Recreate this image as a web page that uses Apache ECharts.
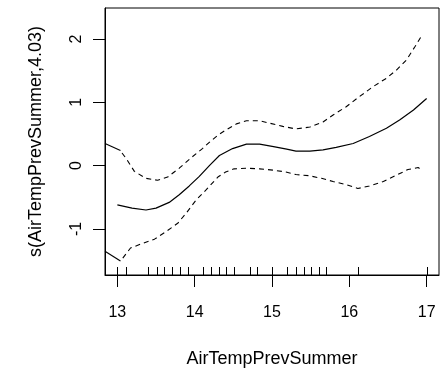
<!DOCTYPE html>
<html>
<head>
<meta charset="utf-8">
<script src="https://cdn.jsdelivr.net/npm/echarts@6/dist/echarts.min.js"></script>
<style>
html,body{margin:0;padding:0;background:#fff;}
#chart{width:444px;height:370px;}
</style>
</head>
<body>
<div id="chart"></div>
<script>
// Axis tick labels
var xTicks = [13, 14, 15, 16, 17];
var yTicks = [-1, 0, 1, 2];

// Smooth fit (solid)
var fitX = [13.0, 13.19, 13.37, 13.50, 13.67, 13.80, 13.93, 14.06, 14.19, 14.32, 14.49, 14.67, 14.84, 15.02, 15.19, 15.31, 15.49, 15.66, 15.83, 16.05, 16.26, 16.48, 16.65, 16.83, 17.0];
var fitY = [-0.62, -0.67, -0.70, -0.67, -0.58, -0.46, -0.32, -0.17, 0.00, 0.16, 0.27, 0.34, 0.34, 0.30, 0.26, 0.23, 0.23, 0.25, 0.29, 0.35, 0.46, 0.59, 0.72, 0.88, 1.06];

// Upper band (dashed)
var upperX = [13.06, 13.11, 13.22, 13.37, 13.52, 13.65, 13.80, 13.95, 14.10, 14.20, 14.30, 14.40, 14.54, 14.67, 14.84, 14.97, 15.14, 15.31, 15.49, 15.66, 15.79, 15.96, 16.13, 16.31, 16.48, 16.61, 16.74, 16.85, 16.94];
var upperY = [0.20, 0.12, -0.09, -0.20, -0.23, -0.18, -0.04, 0.12, 0.27, 0.38, 0.48, 0.56, 0.66, 0.71, 0.71, 0.67, 0.62, 0.58, 0.61, 0.69, 0.80, 0.93, 1.09, 1.25, 1.38, 1.51, 1.67, 1.88, 2.06];

// Lower band (dashed)
var lowerX = [13.07, 13.17, 13.32, 13.48, 13.63, 13.78, 13.89, 14.02, 14.15, 14.30, 14.40, 14.51, 14.67, 14.84, 15.01, 15.18, 15.31, 15.49, 15.64, 15.79, 15.96, 16.11, 16.26, 16.44, 16.61, 16.76, 16.89, 16.94];
var lowerY = [-1.46, -1.30, -1.23, -1.16, -1.04, -0.91, -0.75, -0.54, -0.38, -0.18, -0.10, -0.05, -0.04, -0.05, -0.07, -0.10, -0.14, -0.16, -0.20, -0.25, -0.30, -0.36, -0.32, -0.25, -0.15, -0.06, -0.03, -0.07];

// Band pieces entering from the left edge (drawn solid in the source)
var upperEdgeX = [12.84, 13.04];
var upperEdgeY = [0.35, 0.24];
var lowerEdgeX = [12.84, 13.04];
var lowerEdgeY = [-1.35, -1.505];

// Rug (observed x values)
var rugX = [13.0, 13.11, 13.40, 13.51, 13.60, 13.71, 13.81, 13.91, 14.11, 14.21, 14.31, 14.41, 14.51, 14.71, 14.80, 15.0, 15.20, 15.31, 15.41, 15.51, 15.61, 15.70, 16.11, 17.0];

var X_MIN = 12.84, X_MAX = 17.16, Y_MIN = -1.726, Y_MAX = 2.489;

function zip(a, b) { return a.map(function (v, i) { return [v, b[i]]; }); }

var chart = echarts.init(document.getElementById('chart'));
var FONT = 'Liberation Sans, Arial, sans-serif';

function lineSeries(data, dashed, w) {
  return {type: 'line', symbol: 'none', clip: false, data: data, lineStyle: {color: '#000', width: w, type: dashed ? [5, 4] : 'solid'}};
}

chart.setOption({
  animation: false,
  grid: {left: 105, right: 5, top: 8, bottom: 95, show: true, borderColor: '#000', borderWidth: 1, outerBoundsMode: 'none'},
  xAxis: {
    type: 'value', min: X_MIN, max: X_MAX,
    name: 'AirTempPrevSummer', nameLocation: 'middle', nameGap: 75,
    nameTextStyle: {fontFamily: FONT, fontSize: 18, color: '#000'},
    axisLine: {show: true, onZero: false, lineStyle: {color: '#000', width: 1}},
    axisTick: {show: true, length: 12, customValues: xTicks, lineStyle: {color: '#000', width: 1}},
    axisLabel: {customValues: xTicks, margin: 30, fontFamily: FONT, fontSize: 16, color: '#000'},
    splitLine: {show: false}
  },
  yAxis: {
    type: 'value', min: Y_MIN, max: Y_MAX,
    name: 's(AirTempPrevSummer,4.03)', nameLocation: 'middle', nameGap: 60,
    nameTextStyle: {fontFamily: FONT, fontSize: 18, color: '#000'},
    axisLine: {show: true, onZero: false, lineStyle: {color: '#000', width: 1}},
    axisTick: {show: true, length: 12, customValues: yTicks, lineStyle: {color: '#000', width: 1}},
    axisLabel: {customValues: yTicks, rotate: 90, margin: 20, fontFamily: FONT, fontSize: 16, color: '#000'},
    splitLine: {show: false}
  },
  series: [
    lineSeries(zip(fitX, fitY), false, 1.2),
    lineSeries(zip(upperX, upperY), true, 1.1),
    lineSeries(zip(lowerX, lowerY), true, 1.1),
    lineSeries(zip(upperEdgeX, upperEdgeY), false, 1.1),
    lineSeries(zip(lowerEdgeX, lowerEdgeY), false, 1.1),
    {
      type: 'custom', clip: false,
      data: rugX.map(function (v) { return [v, Y_MIN]; }),
      renderItem: function (params, api) {
        var p = api.coord([api.value(0), api.value(1)]);
        var x = Math.round(p[0]) + 0.5;
        return {type: 'line', shape: {x1: x, y1: p[1], x2: x, y2: p[1] - 8}, style: {stroke: '#000', lineWidth: 1}};
      }
    }
  ]
});
</script>
</body>
</html>
